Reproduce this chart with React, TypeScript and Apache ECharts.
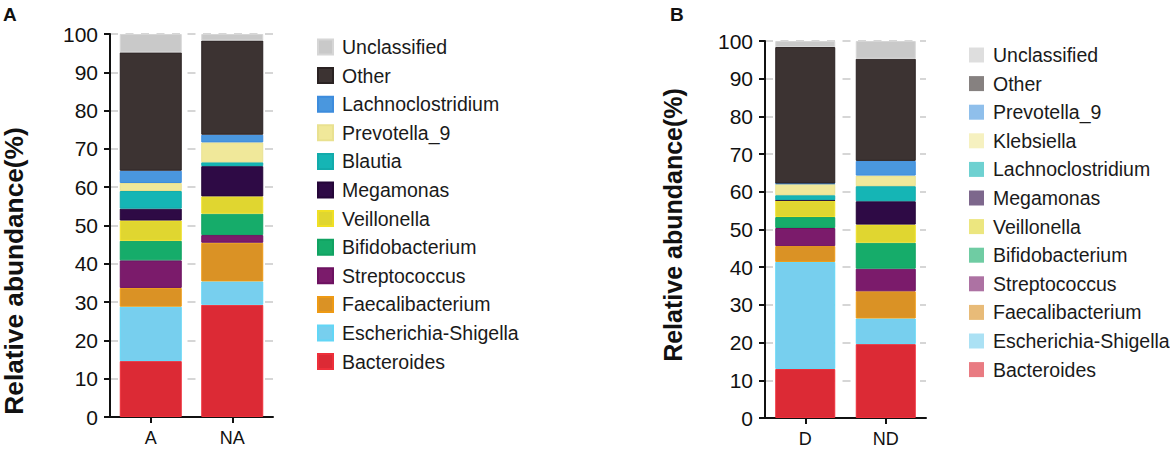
import React, { useEffect, useRef } from "react";
import * as echarts from "echarts";

const FONT = "'Liberation Sans', Arial, Helvetica, sans-serif";

// ---------- Panel A data ----------
const categoriesA = ["A", "NA"];
const bacteroidesA = [14.6, 29.3];
const escherichiaA = [14.2, 6.1];
const faecalibacteriumA = [4.9, 10.1];
const streptococcusA = [7.2, 2.0];
const bifidobacteriumA = [5.1, 5.6];
const veillonellaA = [5.3, 4.5];
const megamonasA = [3.1, 7.9];
const blautiaA = [4.6, 1.0];
const prevotellaA = [2.1, 5.2];
const lachnoclostridiumA = [3.2, 2.0];
const otherA = [30.9, 24.6];
const unclassifiedA = [4.8, 1.7];

// ---------- Panel B data ----------
const categoriesB = ["D", "ND"];
const bacteroidesB = [13.0, 19.6];
const escherichiaB = [28.4, 6.8];
const faecalibacteriumB = [4.2, 7.2];
const streptococcusB = [4.8, 6.0];
const bifidobacteriumB = [2.9, 6.9];
const veillonellaB = [4.4, 4.8];
const megamonasB = [0.1, 6.2];
const lachnoclostridiumB = [1.3, 4.0];
const klebsiellaB = [3.0, 2.8];
const prevotellaB = [0.1, 3.9];
const otherB = [36.2, 27.1];
const unclassifiedB = [1.6, 4.7];

const yTicks = [0, 10, 20, 30, 40, 50, 60, 70, 80, 90, 100];

// palette by slot: [fill, border]
const C = {
  red: ["#dc2a35", "#ee2f3a"],
  sky: ["#77cfee", "#62d6f6"],
  orange: ["#da9225", "#ee9a14"],
  purple: ["#7b1b6b", "#6c1260"],
  green: ["#16ac6a", "#11a262"],
  yellow: ["#e0d630", "#f0e024"],
  navy: ["#2e0a45", "#240638"],
  teal: ["#15b5b5", "#12abab"],
  cream: ["#f0e89a", "#e9e190"],
  blue: ["#4a97de", "#3d8cdd"],
  dark: ["#3c3332", "#2a2222"],
  gray: ["#c9c9c9", "#d6d6d6"],
};

const seriesA = [
  { name: "Bacteroides", data: bacteroidesA, c: C.red },
  { name: "Escherichia-Shigella", data: escherichiaA, c: C.sky },
  { name: "Faecalibacterium", data: faecalibacteriumA, c: C.orange },
  { name: "Streptococcus", data: streptococcusA, c: C.purple },
  { name: "Bifidobacterium", data: bifidobacteriumA, c: C.green },
  { name: "Veillonella", data: veillonellaA, c: C.yellow },
  { name: "Megamonas", data: megamonasA, c: C.navy },
  { name: "Blautia", data: blautiaA, c: C.teal },
  { name: "Prevotella_9", data: prevotellaA, c: C.cream },
  { name: "Lachnoclostridium", data: lachnoclostridiumA, c: C.blue },
  { name: "Other", data: otherA, c: C.dark },
  { name: "Unclassified", data: unclassifiedA, c: C.gray },
];

const seriesB = [
  { name: "Bacteroides", data: bacteroidesB, c: C.red },
  { name: "Escherichia-Shigella", data: escherichiaB, c: C.sky },
  { name: "Faecalibacterium", data: faecalibacteriumB, c: C.orange },
  { name: "Streptococcus", data: streptococcusB, c: C.purple },
  { name: "Bifidobacterium", data: bifidobacteriumB, c: C.green },
  { name: "Veillonella", data: veillonellaB, c: C.yellow },
  { name: "Megamonas", data: megamonasB, c: C.navy },
  { name: "Lachnoclostridium", data: lachnoclostridiumB, c: C.teal },
  { name: "Klebsiella", data: klebsiellaB, c: C.cream },
  { name: "Prevotella_9", data: prevotellaB, c: C.blue },
  { name: "Other", data: otherB, c: C.dark },
  { name: "Unclassified", data: unclassifiedB, c: C.gray },
];

function fade(hex: string, a: number) {
  const n = parseInt(hex.slice(1), 16);
  const r = (n >> 16) & 255, g = (n >> 8) & 255, b = n & 255;
  const m = (v: number) => Math.round(v * a + 255 * (1 - a));
  return `rgb(${m(r)},${m(g)},${m(b)})`;
}

type Cfg = {
  cats: string[];
  series: { name: string; data: number[]; c: string[] }[];
  grid: { left: number; top: number; width: number; height: number };
  barWidth: number;
  legendLeft: number;
  legendTop: number;
  legendFade: boolean;
  title: { x: number; y: number; scale: number };
  letter: { text: string; x: number; y: number };
};

function makeOption(cfg: Cfg): any {
  const legendData = cfg.series
    .slice()
    .reverse()
    .map((s) =>
      cfg.legendFade
        ? {
            name: s.name,
            itemStyle: {
              color: fade(s.c[0], 0.62),
              borderColor: fade(s.c[0], 0.62),
              borderWidth: 0,
            },
          }
        : { name: s.name }
    );
  return {
    animation: false,
    grid: { ...cfg.grid, containLabel: false },
    xAxis: {
      type: "category",
      data: cfg.cats,
      axisLine: { show: true, lineStyle: { color: "#111", width: 2 } },
      axisTick: { show: true, alignWithLabel: true, length: 6, lineStyle: { color: "#111", width: 2 } },
      axisLabel: { fontSize: 18, color: "#111", fontFamily: FONT, margin: 12 },
      splitLine: { show: false },
    },
    yAxis: {
      type: "value",
      min: 0,
      max: 100,
      interval: 10,
      axisLine: { show: true, lineStyle: { color: "#111", width: 2 } },
      axisTick: { show: true, length: 6, lineStyle: { color: "#111", width: 2 } },
      axisLabel: {
        fontSize: 21,
        color: "#111",
        fontFamily: FONT,
        margin: 12,
        formatter: (v: number) => (yTicks.indexOf(v) >= 0 ? String(v) : ""),
      },
      splitLine: { show: true, lineStyle: { color: "#c9c9c9", width: 1.5, type: [8, 7.5] } },
    },
    legend: {
      orient: "vertical",
      left: cfg.legendLeft,
      top: cfg.legendTop,
      itemWidth: 15,
      itemHeight: 15,
      itemGap: 8.6,
      icon: "rect",
      selectedMode: false,
      textStyle: {
        fontSize: 19.5,
        lineHeight: 20,
        color: "#1a1a1a",
        fontFamily: FONT,
        padding: [0, 0, 0, 4],
      },
      data: legendData,
    },
    series: cfg.series.map((s) => ({
      name: s.name,
      type: "bar",
      stack: "total",
      barWidth: cfg.barWidth,
      data: s.data,
      itemStyle: { color: s.c[0], borderColor: s.c[1], borderWidth: 1 },
      emphasis: { disabled: true },
    })),
    graphic: [
      {
        type: "text",
        x: cfg.title.x,
        y: cfg.title.y,
        rotation: Math.PI / 2,
        scaleX: cfg.title.scale,
        style: {
          text: "Relative abundance(%)",
          fontSize: 25,
          fontWeight: "bold",
          fontFamily: FONT,
          fill: "#111",
          align: "center",
          verticalAlign: "middle",
        },
      },
      {
        type: "text",
        x: cfg.letter.x,
        y: cfg.letter.y,
        style: {
          text: cfg.letter.text,
          fontSize: 19,
          fontWeight: "bold",
          fontFamily: FONT,
          fill: "#111",
          align: "left",
          verticalAlign: "top",
        },
      },
    ],
  };
}

function Panel({ left, cfg }: { left: number; cfg: Cfg }) {
  const ref = useRef<HTMLDivElement>(null);
  useEffect(() => {
    if (!ref.current) return;
    const chart = echarts.init(ref.current, undefined, { renderer: "svg" });
    chart.setOption(makeOption(cfg));
    return () => chart.dispose();
  }, []);
  return (
    <div
      ref={ref}
      style={{ position: "absolute", left, top: 0, width: 585, height: 452 }}
    />
  );
}

const cfgA: Cfg = {
  cats: categoriesA,
  series: seriesA,
  grid: { left: 110, top: 34, width: 163, height: 383 },
  barWidth: 62,
  legendLeft: 312,
  legendTop: 32,
  legendFade: false,
  title: { x: 14, y: 271, scale: 1.05 },
  letter: { text: "A", x: 3, y: 5 },
};

const cfgB: Cfg = {
  cats: categoriesB,
  series: seriesB,
  grid: { left: 180, top: 41, width: 161, height: 377 },
  barWidth: 60,
  legendLeft: 379,
  legendTop: 40,
  legendFade: true,
  title: { x: 88, y: 225, scale: 1 },
  letter: { text: "B", x: 85, y: 5 },
};

export default function App() {
  return (
    <div
      style={{
        position: "fixed",
        left: 0,
        top: 0,
        width: 1170,
        height: 452,
        background: "#fff",
      }}
    >
      <Panel left={0} cfg={cfgA} />
      <Panel left={585} cfg={cfgB} />
    </div>
  );
}
